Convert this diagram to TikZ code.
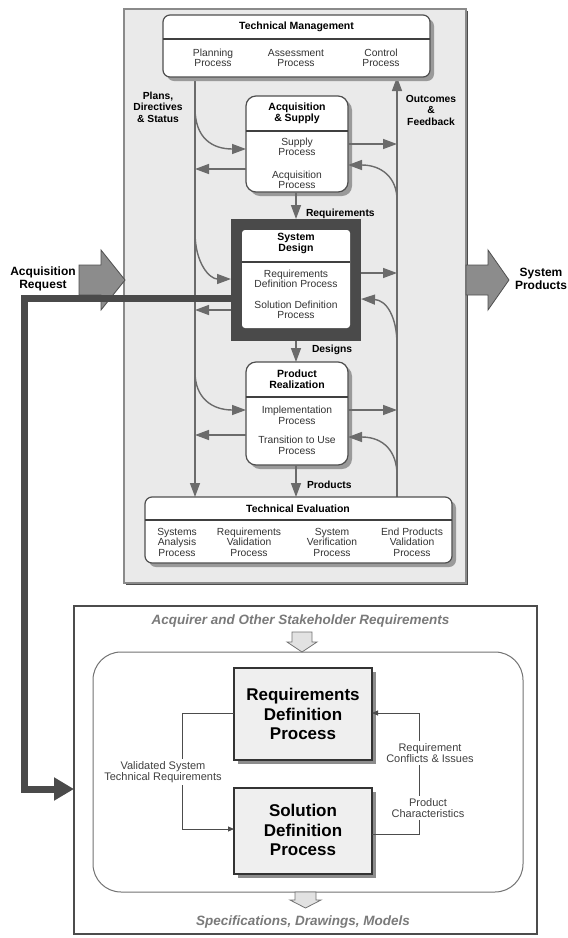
\documentclass[tikz,border=0pt]{standalone}
\usepackage{fontspec}
\setmainfont{Liberation Sans}
\usetikzlibrary{arrows.meta,shadows}

\definecolor{panelfill}{HTML}{EAEAEA}
\definecolor{panelline}{HTML}{8A8A8A}
\definecolor{boxline}{HTML}{4F4F4F}
\definecolor{flowgray}{HTML}{6B6B6B}
\definecolor{shadegray}{HTML}{9A9A9A}
\definecolor{framegray}{HTML}{4A4A4A}
\definecolor{blockgray}{HTML}{8C8C8C}
\definecolor{subgray}{HTML}{333333}
\definecolor{notegray}{HTML}{7A7A7A}
\definecolor{procfill}{HTML}{EFEFEF}
\definecolor{lightblock}{HTML}{E2E2E2}

\begin{document}
\begin{tikzpicture}[x=1pt,y=-1pt,
  every node/.style={inner sep=0pt, outer sep=0pt},
  card/.style={draw=boxline, line width=1.2pt, fill=white, anchor=north west,
    copy shadow={shadow xshift=4pt, shadow yshift=-4pt, fill=shadegray, draw=none}},
  divider/.style={draw=black!75, line width=1.8pt},
  ttl/.style={font=\fontsize{10.5}{11}\selectfont\bfseries, align=center},
  sub/.style={font=\fontsize{10.3}{10.5}\selectfont, text=subgray, align=center},
  lbl/.style={font=\fontsize{10.3}{11.5}\selectfont\bfseries, align=center},
  flow/.style={draw=flowgray, line width=1.4pt},
  flowarrow/.style={flow, -{Triangle[length=14pt,width=10pt]}},
  blockarrow/.style={draw=boxline, line width=0.8pt, fill=blockgray},
  sidelabel/.style={font=\fontsize{12}{13}\selectfont\bfseries, align=center},
  proc/.style={draw=black!80, line width=1.2pt, fill=procfill, anchor=north west,
    minimum width=138pt,
    copy shadow={shadow xshift=4pt, shadow yshift=-4pt, fill=black!45, draw=none}},
  big/.style={font=\fontsize{17}{19.5}\selectfont\bfseries, align=center},
  note/.style={font=\fontsize{11}{11.5}\selectfont, text=black!75, align=center,
    fill=white, inner sep=2pt},
  heading/.style={font=\fontsize{13.5}{15}\selectfont\bfseries\itshape, text=notegray},
  thinflow/.style={draw=black!70, line width=0.9pt, -{Triangle[length=6pt,width=5pt]}},
  lightarrow/.style={draw=black!55, line width=0.8pt, fill=lightblock}
]
\useasboundingbox (0,0) rectangle (568,938);

% ---------------- upper part: technical processes ----------------
\node[draw=panelline, line width=1.2pt, fill=panelfill, anchor=north west,
  minimum width=342pt, minimum height=574pt,
  copy shadow={shadow xshift=1.5pt, shadow yshift=-1.5pt, fill=black!70, draw=none}]
  (panel) at (124,9) {};

\coordinate (L) at (195,0);
\coordinate (R) at (397,0);

% main vertical flows
\draw[flowarrow] (L |- 0,77) -- (L |- 0,497);
\draw[flowarrow] (R |- 0,497) -- (R |- 0,77);

% process boxes (drawn first so the flows can reference them)
\node[card, rounded corners=7pt, minimum width=267pt, minimum height=62pt] (tm) at (163,15) {};
\node[card, rounded corners=10pt, minimum width=102pt, minimum height=96pt] (as) at (246,96) {};
\node[card, rounded corners=10pt, minimum width=102pt, minimum height=103pt] (pr) at (246,362) {};
\node[card, rounded corners=7pt, minimum width=307pt, minimum height=66pt] (te) at (145,497) {};
\node[fill=framegray, anchor=north west, minimum width=130pt, minimum height=122pt] (sdf) at (231,219) {};
\node[fill=white, rounded corners=3pt, anchor=north west, minimum width=108pt, minimum height=98pt] (sdi) at (242,230) {};

\draw[divider] (tm.west |- 0,39) -- (tm.east |- 0,39);
\draw[divider] (as.west |- 0,131) -- (as.east |- 0,131);
\draw[divider] (pr.west |- 0,397) -- (pr.east |- 0,397);
\draw[divider] (te.west |- 0,520) -- (te.east |- 0,520);
\draw[divider] (sdi.west |- 0,262) -- (sdi.east |- 0,262);

% Acquisition & Supply flows
\draw[flowarrow] (L |- 0,108) .. controls (195,138) and (212,149) .. (as.west |- 0,149);
\draw[flowarrow] (as.west |- 0,169) -- (L |- 0,169);
\draw[flowarrow] (as.east |- 0,144) -- (R |- 0,144);
\draw[flowarrow] (R |- 0,200) .. controls (397,178) and (382,165) .. (as.east |- 0,165);

% System Design flows
\draw[flowarrow] (L |- 0,232) .. controls (195,264) and (210,279) .. (sdf.west |- 0,279);
\draw[flowarrow] (sdf.west |- 0,310) -- (L |- 0,310);
\draw[flowarrow] (sdf.east |- 0,273) -- (R |- 0,273);
\draw[flowarrow] (R |- 0,345) .. controls (397,316) and (386,300) .. (sdf.east |- 0,299);

% Product Realization flows
\draw[flowarrow] (L |- 0,372) .. controls (195,398) and (212,410) .. (pr.west |- 0,410);
\draw[flowarrow] (pr.west |- 0,435) -- (L |- 0,435);
\draw[flowarrow] (pr.east |- 0,410) -- (R |- 0,410);
\draw[flowarrow] (R |- 0,475) .. controls (397,452) and (384,437) .. (pr.east |- 0,437);

% downward chain
\draw[flowarrow] (as.south -| 296,0) -- (sdf.north -| 296,0);
\draw[flowarrow] (sdf.south -| 296,0) -- (pr.north -| 296,0);
\draw[flowarrow] (pr.south -| 296,0) -- (te.north -| 296,0);

% box texts
\node[ttl] (tmt) at (296.5,27) {Technical Management};
\node[sub] (tm1) at (213,58) {Planning\\Process};
\node[sub] (tm2) at (296,58) {Assessment\\Process};
\node[sub] (tm3) at (381,58) {Control\\Process};

\node[ttl] (ast) at (297,113) {Acquisition\\\& Supply};
\node[sub] (as1) at (297,147) {Supply\\Process};
\node[sub] (as2) at (297,180) {Acquisition\\Process};

\node[ttl] (sdt) at (296,243) {System\\Design};
\node[sub] (sd1) at (296,279) {Requirements\\Definition Process};
\node[sub] (sd2) at (296,310) {Solution Definition\\Process};

\node[ttl] (prt) at (297,379) {Product\\Realization};
\node[sub] (pr1) at (297,415.5) {Implementation\\Process};
\node[sub] (pr2) at (297,445.5) {Transition to Use\\Process};

\node[ttl] (tet) at (298,509) {Technical Evaluation};
\node[sub] (te1) at (177,542) {Systems\\Analysis\\Process};
\node[sub] (te2) at (249,542) {Requirements\\Validation\\Process};
\node[sub] (te3) at (332,542) {System\\Verification\\Process};
\node[sub] (te4) at (412,542) {End Products\\Validation\\Process};

% flow labels
\node[lbl] (plans) at (158,107) {Plans,\\Directives\\\& Status};
\node[lbl] (outc) at (431,110) {Outcomes\\\&\\Feedback};
\node[lbl, anchor=west] (lreq) at (306,214) {Requirements};
\node[lbl, anchor=west] (ldes) at (312,350) {Designs};
\node[lbl, anchor=west] (lprod) at (307,485) {Products};

% input and output block arrows
\draw[blockarrow] (79,265) -- (101,265) -- (101,250) -- (125,280) -- (101,310) -- (101,295) -- (79,295) -- cycle;
\draw[blockarrow] (466,265) -- (488,265) -- (488,250) -- (509,280) -- (488,310) -- (488,295) -- (466,295) -- cycle;
\node[sidelabel] (acqreq) at (43,279) {Acquisition\\Request};
\node[sidelabel] (sysprod) at (541,279) {System\\Products};

% ---------------- lower part: system design detail ----------------
\node[draw=black!70, line width=1.6pt, fill=white, anchor=north west,
  minimum width=463pt, minimum height=328pt] (lowerbox) at (74,606) {};
\node[heading] (inhead) at (300.5,621) {Acquirer and Other Stakeholder Requirements};
\draw[lightarrow] (292,632) -- (312,632) -- (312,642) -- (317,642) -- (302,652) -- (287,642) -- (292,642) -- cycle;
\node[draw=black!55, line width=1pt, rounded corners=28pt, anchor=north west,
  minimum width=430pt, minimum height=240pt] (inner) at (93,652) {};

\node[proc, minimum height=92pt] (rdp) at (234,668) {};
\node[proc, minimum height=86pt] (sdp) at (234,788) {};
\node[big] (rdpt) at (303,714) {Requirements\\Definition\\Process};
\node[big] (sdpt) at (303,830) {Solution\\Definition\\Process};

\draw[thinflow] (rdp.west |- 0,713) -- (182,713) -- (182,829) -- (sdp.west |- 0,829);
\draw[thinflow] (sdp.east |- 0,834) -- (419,834) -- (419,713) -- (rdp.east |- 0,713);
\node[note] (valreq) at (163,772) {Validated System\\Technical Requirements};
\node[note] (conf) at (430,753) {Requirement\\Conflicts \& Issues};
\node[note] (pchar) at (428,808) {Product\\Characteristics};

\draw[lightarrow] (295,892) -- (316,892) -- (316,900) -- (321,900) -- (305.5,908) -- (290,900) -- (295,900) -- cycle;
\node[heading] (outhead) at (303,922) {Specifications, Drawings, Models};

% link from the System Design box to its detailed view
\draw[draw=framegray, line width=7pt, line join=miter,
  -{Triangle[length=20pt,width=22pt]}]
  (sdf.west |- 0,298) -- (24,298) -- (24,789) -- (lowerbox.west |- 0,789);
\end{tikzpicture}
\end{document}
